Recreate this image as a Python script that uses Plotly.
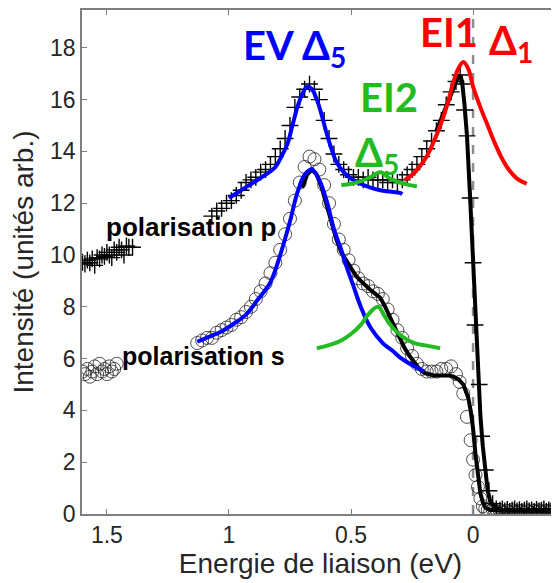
import plotly.graph_objects as go

# --- data ---
# polarisation p (crosses)
p_E = [1.600, 1.590, 1.580, 1.570, 1.560, 1.550, 1.540, 1.530, 1.520, 1.510,
       1.500, 1.490, 1.480, 1.470, 1.460, 1.450, 1.440, 1.430, 1.420, 1.410, 1.395,
       None,
       1.07, 1.05, 1.03, 1.01, 0.99, 0.97, 0.95, 0.93, 0.91, 0.89, 0.87, 0.85,
       0.83, 0.81, 0.79, 0.77, 0.75, 0.73, 0.71, 0.69, 0.67, 0.65, 0.63, 0.61,
       0.59, 0.57, 0.55, 0.53, 0.51, 0.49, 0.47, 0.45, 0.43, 0.41, 0.39, 0.37,
       0.35, 0.33, 0.31, 0.29, 0.27, 0.25, 0.23, 0.21, 0.19, 0.17, 0.15, 0.13,
       0.11, 0.09, 0.07, 0.053, 0.045, 0.035, 0.025, 0.012, 0.0, -0.008, -0.025,
       -0.035, -0.05, -0.065, -0.08, -0.095, -0.11, -0.12, -0.13, -0.14, -0.15,
       -0.16, -0.17, -0.18, -0.19, -0.20, -0.21, -0.22, -0.23, -0.24, -0.25,
       -0.26, -0.27, -0.28, -0.29, -0.30, -0.31, -0.32, -0.33, -0.34, -0.35]
p_I = [9.72, 9.65, 9.80, 9.70, 9.85, 9.60, 9.90, 9.85, 10.0, 9.95,
       10.1, 10.0, 9.90, 10.2, 10.1, 10.3, 10.2, 10.0, 10.35, 10.3, 10.3,
       None,
       11.5, 11.7, 11.8, 12.0, 12.1, 12.3, 12.5, 12.8, 12.9, 13.0, 13.2, 13.3,
       13.5, 13.8, 14.1, 14.5, 15.0, 15.7, 16.1, 16.4, 16.6, 16.4, 16.0, 15.2,
       14.5, 13.9, 13.5, 13.3, 13.1, 13.0, 13.0, 12.9, 13.0, 12.9, 12.9, 12.9,
       12.8, 12.9, 12.8, 12.9, 13.1, 13.3, 13.5, 13.8, 14.1, 14.4, 14.8, 15.2,
       15.8, 16.3, 16.7, 16.95, 16.6, 15.6, 14.6, 12.2, 9.7, 7.3, 5.0,
       3.0, 1.7, 0.9, 0.4, 0.2, 0.15, 0.2, 0.12, 0.18, 0.1,
       0.15, 0.2, 0.12, 0.17, 0.1, 0.15, 0.2, 0.12, 0.16, 0.1,
       0.18, 0.12, 0.15, 0.2, 0.1, 0.16, 0.12, 0.18, 0.1, 0.15]

# polarisation s (circles)
s_E = [1.60, 1.59, 1.58, 1.57, 1.56, 1.55, 1.54, 1.53, 1.52, 1.51, 1.50,
       1.49, 1.48, 1.47, 1.46,
       None,
       1.13, 1.11, 1.09, 1.07, 1.05, 1.03, 1.01, 0.99, 0.97, 0.95, 0.93, 0.91,
       0.89, 0.87, 0.85, 0.83, 0.81, 0.79, 0.77, 0.75, 0.73, 0.71, 0.69, 0.67,
       0.65, 0.63, 0.61, 0.59, 0.57, 0.55, 0.53, 0.51, 0.49, 0.47, 0.45, 0.43,
       0.41, 0.39, 0.37, 0.35, 0.33, 0.31, 0.29, 0.27, 0.25, 0.23, 0.21, 0.19,
       0.17, 0.15, 0.13, 0.11, 0.09, 0.07, 0.055, 0.04, 0.025, 0.01, 0.0,
       -0.01, -0.02, -0.03, -0.04, -0.05, -0.06, -0.07, -0.08, -0.09, -0.10,
       -0.11, -0.12, -0.13, -0.14, -0.15, -0.16, -0.17, -0.18, -0.19, -0.20,
       -0.21, -0.22, -0.23, -0.24, -0.25, -0.26, -0.27, -0.28, -0.29, -0.30,
       -0.31, -0.32, -0.33, -0.34, -0.35]
s_I = [5.5, 5.4, 5.6, 5.3, 5.5, 5.7, 5.4, 5.8, 5.5, 5.6, 5.4,
       5.7, 5.5, 5.6, 5.8,
       None,
       6.6, 6.7, 6.8, 6.8, 7.0, 7.1, 7.2, 7.3, 7.5, 7.6, 7.8, 8.0,
       8.3, 8.6, 8.9, 9.3, 9.7, 10.2, 10.8, 11.4, 12.1, 12.8, 13.4, 13.8,
       13.7, 13.3, 12.7, 12.0, 11.2, 10.6, 10.2, 9.8, 9.4, 9.1, 8.9, 8.8,
       8.6, 8.5, 8.3, 7.9, 7.5, 7.1, 6.8, 6.4, 6.1, 5.8, 5.6, 5.5,
       5.5, 5.5, 5.6, 5.6, 5.7, 5.4, 5.1, 4.65, 3.75, 2.85, 2.1,
       1.5, 1.05, 0.6, 0.3, 0.2, 0.15, 0.1, 0.18, 0.12, 0.08,
       0.15, 0.1, 0.05, 0.12, 0.08, 0.15, 0.1, 0.05, 0.12, 0.1,
       0.06, 0.14, 0.1, 0.05, 0.12, 0.08, 0.14, 0.1, 0.06, 0.12,
       0.08, 0.14, 0.1, 0.06, 0.12]

# fits
fit_p_E = [0.15, 0.12, 0.10, 0.08, 0.065, 0.053, 0.045, 0.035, 0.025, 0.012, 0.0,
           -0.008, -0.02, -0.03, -0.04, -0.05, -0.06, -0.07, -0.09, -0.12, -0.35]
fit_p_I = [14.8, 15.5, 16.0, 16.5, 16.8, 16.95, 16.7, 15.8, 14.6, 12.2, 9.8,
           7.6, 5.6, 3.8, 2.6, 1.6, 0.9, 0.5, 0.25, 0.15, 0.12]

fit_s_E = [0.70, 0.68, 0.66, 0.64, 0.62, 0.60, 0.58, 0.56, 0.54, 0.52, 0.50,
           0.48, 0.46, 0.44, 0.42, 0.40, 0.38, 0.36, 0.34, 0.32, 0.30, 0.28,
           0.26, 0.24, 0.22, 0.20, 0.18, 0.16, 0.14, 0.12, 0.10, 0.08, 0.06,
           0.04, 0.02, 0.01, 0.0, -0.01, -0.02, -0.03, -0.04, -0.05, -0.07, -0.35]
fit_s_I = [12.6, 13.1, 13.3, 13.1, 12.6, 11.9, 11.2, 10.6, 10.1, 9.8, 9.5,
           9.2, 9.0, 8.8, 8.65, 8.5, 8.35, 8.0, 7.6, 7.2, 6.8, 6.4,
           6.1, 5.85, 5.6, 5.45, 5.4, 5.35, 5.35, 5.35, 5.35, 5.3, 5.2,
           5.0, 4.5, 4.0, 3.3, 2.3, 1.4, 0.8, 0.45, 0.25, 0.15, 0.12]

ev_p_E = [1.00, 0.95, 0.90, 0.85, 0.81, 0.78, 0.76, 0.74, 0.72, 0.70, 0.68,
          0.66, 0.64, 0.62, 0.60, 0.58, 0.56, 0.53, 0.50, 0.46, 0.42, 0.38,
          0.34, 0.30, 0.29]
ev_p_I = [12.2, 12.5, 12.8, 13.1, 13.4, 13.9, 14.3, 15.0, 15.7, 16.2, 16.5,
          16.4, 16.0, 15.4, 14.7, 14.1, 13.6, 13.2, 12.95, 12.75, 12.6, 12.5,
          12.45, 12.4, 12.35]

ev_s_E = [1.13, 1.08, 1.03, 0.98, 0.93, 0.88, 0.83, 0.79, 0.75, 0.72, 0.69,
          0.66, 0.63, 0.60, 0.57, 0.54, 0.52, 0.49, 0.46, 0.42, 0.37, 0.33,
          0.30, 0.25, 0.20]
ev_s_I = [6.65, 6.85, 7.05, 7.35, 7.7, 8.3, 8.95, 10.0, 11.3, 12.4, 13.1,
          13.3, 12.9, 12.1, 11.0, 10.2, 9.6, 8.8, 8.0, 7.2, 6.6, 6.3,
          6.05, 5.75, 5.5]

ei2_p_E = [0.54, 0.50, 0.46, 0.42, 0.38, 0.34, 0.30, 0.26, 0.23]
ei2_p_I = [12.7, 12.75, 12.85, 13.0, 13.2, 12.95, 12.8, 12.7, 12.65]

ei2_s_E = [0.64, 0.58, 0.54, 0.50, 0.46, 0.43, 0.39, 0.36, 0.33, 0.29, 0.24, 0.19, 0.135]
ei2_s_I = [6.4, 6.55, 6.7, 6.95, 7.3, 7.7, 8.0, 7.6, 7.2, 6.85, 6.6, 6.5, 6.4]

ei1_E = [0.28, 0.25, 0.22, 0.19, 0.16, 0.13, 0.10, 0.08, 0.06, 0.04, 0.02, 0.0,
         -0.03, -0.06, -0.09, -0.12, -0.15, -0.18, -0.22]
ei1_I = [12.9, 13.1, 13.4, 13.8, 14.4, 15.1, 16.0, 16.7, 17.2, 17.45, 17.2, 16.5,
         15.7, 15.0, 14.3, 13.7, 13.25, 12.95, 12.75]

x_ticks = [1.5, 1, 0.5, 0]
x_labels = ["1.5", "1", "0.5", "0"]
y_ticks = [0, 2, 4, 6, 8, 10, 12, 14, 16, 18]

BLUE = "#0000ff"
GREEN = "#22bb22"
RED = "#ff0000"

fig = go.Figure()

# dashed Fermi level
fig.add_trace(go.Scatter(x=[0, 0], y=[0, 19.5], mode="lines",
                         line=dict(color="#8c8c8c", width=2.5, dash="dash"),
                         showlegend=False))

fig.add_trace(go.Scatter(x=s_E, y=s_I, mode="markers",
                         marker=dict(symbol="circle-open", size=13, color="#222222",
                                     line=dict(width=0.8, color="#222222")),
                         showlegend=False))
fig.add_trace(go.Scatter(x=p_E, y=p_I, mode="markers",
                         marker=dict(symbol="cross-thin", size=12, color="black",
                                     line=dict(width=1.4, color="black")),
                         showlegend=False))

fig.add_trace(go.Scatter(x=fit_s_E, y=fit_s_I, mode="lines",
                         line=dict(color="black", width=4), showlegend=False))
fig.add_trace(go.Scatter(x=fit_p_E, y=fit_p_I, mode="lines",
                         line=dict(color="black", width=4), showlegend=False))

for xs, ys, c in [(ev_p_E, ev_p_I, BLUE), (ev_s_E, ev_s_I, BLUE),
                  (ei2_p_E, ei2_p_I, GREEN), (ei2_s_E, ei2_s_I, GREEN),
                  (ei1_E, ei1_I, RED)]:
    fig.add_trace(go.Scatter(x=xs, y=ys, mode="lines", line=dict(color=c, width=4),
                             line_shape="spline", showlegend=False))

lab_font = "Lato, Liberation Sans, sans-serif"
big = 40
fig.add_annotation(x=0.95, y=18.0, text="<b>EV Δ<sub>5</sub></b>", showarrow=False,
                   xanchor="left", yanchor="middle",
                   font=dict(family=lab_font, size=big, color=BLUE))
fig.add_annotation(x=0.225, y=18.6, text="<b>EI1</b>", showarrow=False,
                   xanchor="left", yanchor="middle",
                   font=dict(family=lab_font, size=big, color=RED))
fig.add_annotation(x=-0.055, y=18.2, text="<b>Δ<sub>1</sub></b>", showarrow=False,
                   xanchor="left", yanchor="middle",
                   font=dict(family=lab_font, size=big, color=RED))
fig.add_annotation(x=0.47, y=16.1, text="<b>EI2</b>", showarrow=False,
                   xanchor="left", yanchor="middle",
                   font=dict(family=lab_font, size=big, color=GREEN))
fig.add_annotation(x=0.49, y=13.9, text="<b>Δ<sub>5</sub></b>", showarrow=False,
                   xanchor="left", yanchor="middle",
                   font=dict(family=lab_font, size=big, color=GREEN))
fig.add_annotation(x=1.51, y=11.1, text="<b>polarisation p</b>", showarrow=False,
                   xanchor="left", yanchor="middle",
                   font=dict(family="Liberation Sans, Arial, sans-serif", size=26,
                             color="black"))
fig.add_annotation(x=1.445, y=6.1, text="<b>polarisation s</b>", showarrow=False,
                   xanchor="left", yanchor="middle",
                   font=dict(family="Liberation Sans, Arial, sans-serif", size=25,
                             color="black"))

axis_style = dict(showgrid=False, zeroline=False, ticks="inside", ticklen=5,
                  tickcolor="#7f7f7f", linecolor="#7f7f7f", linewidth=1.5,
                  mirror="ticks", showline=True, automargin=False,
                  tickfont=dict(family="Liberation Sans, Arial", size=23, color="#262626"))

# page body has an 8px margin, so the figure is a bit smaller than the window
fig.update_layout(
    width=551, height=575,
    margin=dict(l=74, r=0, t=2, b=69),
    plot_bgcolor="white", paper_bgcolor="white",
    xaxis=dict(range=[1.602, -0.352], tickvals=x_ticks, ticktext=x_labels,
               title=dict(text="Energie de liaison (eV)", standoff=2,
                          font=dict(family="Liberation Sans, Arial", size=28,
                                    color="#262626")),
               **axis_style),
    yaxis=dict(range=[0, 19.46], tickvals=y_ticks,
               title=dict(text="Intensité (unités arb.)", standoff=10,
                          font=dict(family="Liberation Sans, Arial", size=28,
                                    color="#262626")),
               **axis_style),
)

fig.write_html("out.html")
